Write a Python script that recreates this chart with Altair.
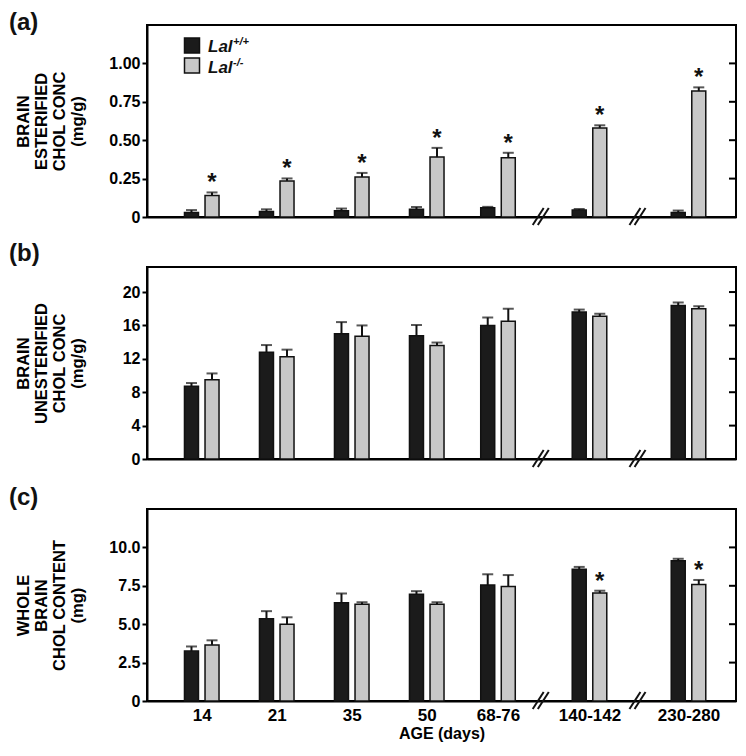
import altair as alt
import pandas as pd

# ---------------- data ----------------
AGES = ["14", "21", "35", "50", "68-76", "140-142", "230-280"]
GENOTYPES = ["+/+", "-/-"]

EST_WT = [0.03, 0.035, 0.04, 0.05, 0.06, 0.045, 0.03]
EST_WT_ERR = [0.015, 0.015, 0.015, 0.015, 0.006, 0.007, 0.012]
EST_KO = [0.14, 0.235, 0.26, 0.39, 0.385, 0.58, 0.82]
EST_KO_ERR = [0.02, 0.016, 0.027, 0.06, 0.033, 0.017, 0.024]
EST_SIG = [1, 1, 1, 1, 1, 1, 1]

UNEST_WT = [8.7, 12.8, 15.0, 14.75, 16.0, 17.6, 18.4]
UNEST_WT_ERR = [0.4, 0.85, 1.4, 1.3, 0.95, 0.3, 0.35]
UNEST_KO = [9.5, 12.25, 14.7, 13.6, 16.5, 17.1, 18.0]
UNEST_KO_ERR = [0.75, 0.85, 1.3, 0.35, 1.5, 0.3, 0.3]
UNEST_SIG = [0, 0, 0, 0, 0, 0, 0]

WHOLE_WT = [3.25, 5.35, 6.4, 6.95, 7.55, 8.58, 9.13]
WHOLE_WT_ERR = [0.3, 0.5, 0.6, 0.2, 0.7, 0.15, 0.13]
WHOLE_KO = [3.65, 5.0, 6.3, 6.3, 7.45, 7.03, 7.58]
WHOLE_KO_ERR = [0.3, 0.45, 0.13, 0.13, 0.75, 0.15, 0.3]
WHOLE_SIG = [0, 0, 0, 0, 0, 1, 1]

EST_TICKS = [0, 0.25, 0.5, 0.75, 1.0]
UNEST_TICKS = [0, 4, 8, 12, 16, 20]
WHOLE_TICKS = [0, 2.5, 5.0, 7.5, 10.0]

# ---------------- layout ----------------
GROUP_POS = [0, 1, 2, 3, 3.95, 5.17, 6.49]   # group slots on the age axis (with breaks)
BREAKS = [4.52, 5.81]
W, H = 589, 192
XDOM = [-0.73, -0.73 + W / 75.0]
OFFSET = 0.137
FONT = "Liberation Sans"


def make_df(wt, wt_err, ko, ko_err, sig):
    rows = []
    for i, a in enumerate(AGES):
        rows.append(dict(age=a, xpos=GROUP_POS[i] - OFFSET, geno=GENOTYPES[0],
                         mean=wt[i], top=wt[i] + wt_err[i], sig=0))
        rows.append(dict(age=a, xpos=GROUP_POS[i] + OFFSET, geno=GENOTYPES[1],
                         mean=ko[i], top=ko[i] + ko_err[i], sig=sig[i]))
    return pd.DataFrame(rows)


def break_df():
    rows = []
    for b in BREAKS:
        for s in (-0.034, 0.034):
            rows.append(dict(x=b + s - 0.073, x2=b + s + 0.073))
    return pd.DataFrame(rows)


x_label_expr = "[" + ",".join("'%s'" % a for a in AGES) + "][indexof([" + \
    ",".join(str(p) for p in GROUP_POS) + "], datum.value)]"


def panel(df, ymax, ticks, lab_expr, title, tag, tag_dy, bottom, legend=False):
    if bottom:
        xaxis = alt.Axis(values=GROUP_POS, labelExpr=x_label_expr, ticks=False, tickSize=0,
                         labelPadding=6, labelFontSize=17, grid=False, domainWidth=2,
                         domainColor="black", title="AGE (days)", titleFontSize=16,
                         titlePadding=2, labelFlush=False)
    else:
        xaxis = alt.Axis(labels=False, ticks=False, grid=False, domainWidth=2,
                         domainColor="black", title=None)
    yaxis = alt.Axis(values=ticks, labelExpr=lab_expr, grid=False, tickSize=5, tickWidth=2,
                     tickColor="black", domainWidth=2, domainColor="black", labelPadding=2,
                     labelFontSize=16, title=title, titleFontSize=16.5, titleLineHeight=18,
                     titleX=-116, titleY=H / 2, titleAngle=-90, titleBaseline="bottom",
                     titleAlign="center")
    xs = alt.Scale(domain=XDOM, nice=False, zero=False, padding=0)
    ys = alt.Scale(domain=[0, ymax], nice=False, padding=0)

    def X(f):
        return alt.X(f, scale=xs, axis=xaxis)

    def Y(f):
        return alt.Y(f, scale=ys, axis=yaxis)

    base = alt.Chart(df)
    bars = base.mark_bar(size=14, stroke="#111111", strokeWidth=1.5, orient="vertical").encode(
        x=X("xpos:Q"), y=Y("mean:Q"),
        fill=alt.Fill("geno:N", scale=alt.Scale(domain=GENOTYPES, range=["#1b1b1b", "#c8c8c8"]),
                      legend=None))
    stems = base.mark_rule(strokeWidth=2, color="#111111").encode(
        x=X("xpos:Q"), y=Y("mean:Q"), y2="top:Q")
    caps = base.mark_tick(orient="horizontal", size=11, thickness=2, color="#111111").encode(
        x=X("xpos:Q"), y=Y("top:Q"))
    stars = base.transform_filter("datum.sig == 1").mark_text(
        text="*", fontSize=24, fontWeight="bold", baseline="alphabetic", dy=-2,
        color="#111111").encode(x=X("xpos:Q"), y=Y("top:Q"))
    rt = alt.Chart(pd.DataFrame({"v": ticks[1:]})).mark_rule(strokeWidth=2, color="black").encode(
        y=Y("v:Q"), x=alt.value(W - 7), x2=alt.value(W))
    brk = alt.Chart(break_df()).mark_rule(strokeWidth=2, color="#111111").encode(
        x=X("x:Q"), x2="x2:Q", y=alt.value(H + 8), y2=alt.value(H - 9))
    tagl = alt.Chart(pd.DataFrame({"t": [tag]})).mark_text(
        fontSize=24, fontWeight="bold", align="left", baseline="alphabetic").encode(
        text="t:N", x=alt.value(-138), y=alt.value(tag_dy))
    layers = [bars, stems, caps, stars, rt, brk, tagl]
    if legend:
        one = pd.DataFrame({"t": ["Lal"]})
        sq1 = alt.Chart(one).mark_square(size=225, fill="#1b1b1b", stroke="#111111",
                                         strokeWidth=1.5, opacity=1).encode(
            x=alt.value(45), y=alt.value(20.5))
        sq2 = alt.Chart(one).mark_square(size=225, fill="#c8c8c8", stroke="#111111",
                                         strokeWidth=1.5, opacity=1).encode(
            x=alt.value(45), y=alt.value(40.5))
        t1 = alt.Chart(one).mark_text(fontSize=17, fontWeight="bold", fontStyle="italic",
                                      align="left", baseline="alphabetic").encode(
            text="t:N", x=alt.value(61), y=alt.value(27))
        t2 = alt.Chart(one).mark_text(fontSize=17, fontWeight="bold", fontStyle="italic",
                                      align="left", baseline="alphabetic").encode(
            text="t:N", x=alt.value(61), y=alt.value(48))
        s1 = alt.Chart(pd.DataFrame({"t": ["+/+"]})).mark_text(
            fontSize=11, fontWeight="bold", fontStyle="italic", align="left",
            baseline="alphabetic").encode(text="t:N", x=alt.value(86), y=alt.value(20))
        s2 = alt.Chart(pd.DataFrame({"t": ["-/-"]})).mark_text(
            fontSize=11, fontWeight="bold", fontStyle="italic", align="left",
            baseline="alphabetic").encode(text="t:N", x=alt.value(86), y=alt.value(41))
        layers += [sq1, sq2, t1, t2, s1, s2]
    return alt.layer(*layers).properties(width=W, height=H)


pa = panel(make_df(EST_WT, EST_WT_ERR, EST_KO, EST_KO_ERR, EST_SIG), 1.25, EST_TICKS,
           "datum.value == 0 ? '0' : format(datum.value, '.2f')",
           ["BRAIN", "ESTERIFIED", "CHOL CONC", "(mg/g)"], "(a)", 5, False, legend=True)
pb = panel(make_df(UNEST_WT, UNEST_WT_ERR, UNEST_KO, UNEST_KO_ERR, UNEST_SIG), 23, UNEST_TICKS,
           "format(datum.value, 'd')",
           ["BRAIN", "UNESTERIFIED", "CHOL CONC", "(mg/g)"], "(b)", -6, False)
pc = panel(make_df(WHOLE_WT, WHOLE_WT_ERR, WHOLE_KO, WHOLE_KO_ERR, WHOLE_SIG), 12.5, WHOLE_TICKS,
           "datum.value == 0 ? '0' : format(datum.value, '.1f')",
           ["WHOLE", "BRAIN", "CHOL CONTENT", "(mg)"], "(c)", -4, True)

chart = alt.vconcat(pa, pb, pc, spacing=50, bounds="flush").properties(
    padding={"top": 2, "left": 0, "right": 0, "bottom": 0}, background="white"
).configure_view(stroke="black", strokeWidth=2).configure_axis(
    labelFont=FONT, titleFont=FONT, labelFontWeight="bold", titleFontWeight="bold",
    labelColor="black", titleColor="black"
).configure_text(font=FONT, color="#111111")

chart.save("out.html", embed_options={"renderer": "svg", "actions": False})
